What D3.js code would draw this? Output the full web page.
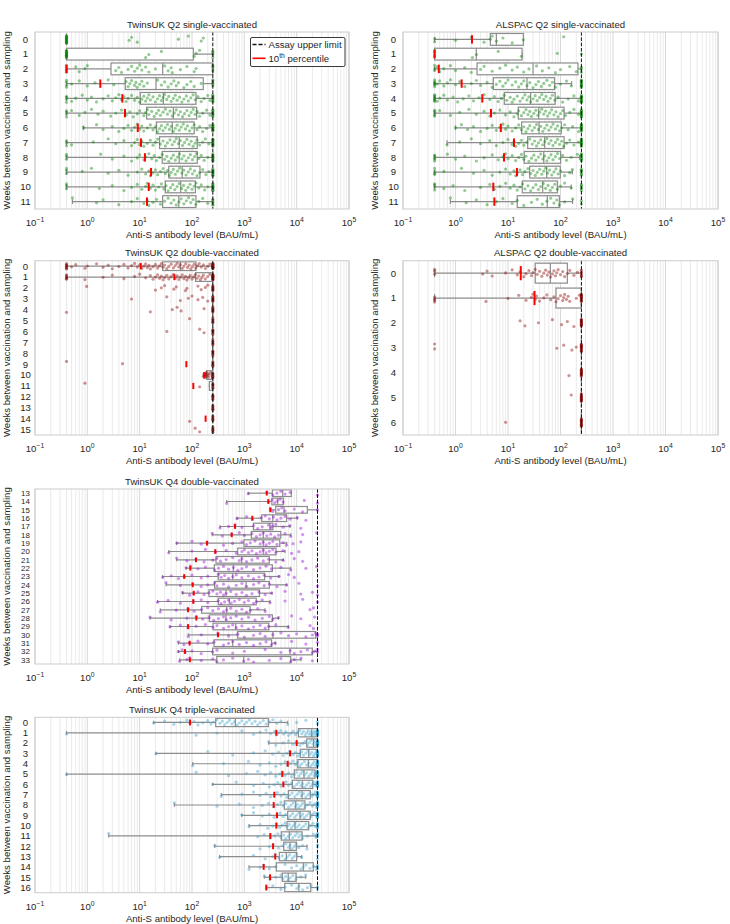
<!DOCTYPE html>
<html><head><meta charset="utf-8">
<script src="https://cdn.jsdelivr.net/npm/d3@7"></script>
<style>
body{margin:0;background:#fff}
svg{display:block}
text{font-family:"Liberation Sans",Arial,Helvetica,sans-serif;fill:#262626}
</style></head>
<body><svg id="chart" width="730" height="924"></svg>
<script>
// ---------- DATA ----------
const panelTitles = ["TwinsUK Q2 single-vaccinated","ALSPAC Q2 single-vaccinated","TwinsUK Q2 double-vaccinated","ALSPAC Q2 double-vaccinated","TwinsUK Q4 double-vaccinated","TwinsUK Q4 triple-vaccinated"];
const xTickExps = [-1,0,1,2,3,4,5];
const assayLower = [0.4,0.4,0.4,0.4,0.4,0.4];
const assayUpper = [250,250,250,250,25000,25000];
const xLabel = "Anti-S antibody level (BAU/mL)";
const yLabel = "Weeks between vaccination and sampling";

// box stats per row: [whiskerLow, Q1, median, Q3, whiskerHigh, 10th percentile]
const p1Weeks = [0,1,2,3,4,5,6,7,8,9,10,11];
const p1Box = [
 [0.4,0.4,0.4,0.4,0.4,null],[0.4,0.4,0.4,106,250,null],[0.4,2.83,27.5,250,250,0.4],
 [0.4,5.3,20.5,164,250,1.77],[0.4,10.3,28.3,119,250,4.66],[0.4,13.6,44,123,250,5.25],
 [0.84,21,42,110,250,9.2],[0.4,24,57,126,250,10.6],[0.4,27,57,126,250,12.6],
 [0.4,36,65,142,250,16.5],[0.4,31,61,116,250,14.9],[0.52,27.5,56,119,250,13.8]];
const p1Low = [14,14,5,4,4,4,0,3,3,3,3,0];
const p1High = [0,4,4,5,8,8,10,10,10,10,10,5];
const p1Pts = [
 [6.3,7,9,55,85,150,165],
 [13,15,26,110,120,140],
 [0.6,0.7,0.9,1.0,3.5,4,4.5,6,7,8,9,10,11,13,15,20,30,35,40,42,60,80,110,120],
 [0.5,0.7,1,1.4,2.5,3.2,5.5,6,6.5,7,8,8.5,9,10,11,12,14,22,26,30,35,40,45,50,55,70,80,95,110,150],
 [0.5,0.6,0.8,1.0,1.2,1.5,2,2.5,3,3.5,4,4.5,5,5.5,6,7,8,9,10,11,12,13,14,15,16,18,20,22,24,26,28,30,33,36,40,44,48,52,58,64,70,78,85,95,105,115,130,150,170,200,220],
 [0.5,0.7,0.9,1.2,1.6,2,2.8,3.5,4.5,5.5,6.5,7.5,9,10,12,13,14,15,17,19,21,23,25,28,31,34,38,42,46,50,55,60,66,72,80,88,96,105,115,125,140,160,190,220],
 [0.85,1.5,2,3,4,5,6,7,8,9,10,11,12,14,16,18,20,22,24,26,28,31,34,37,40,44,48,52,57,62,68,75,82,90,100,110,125,140,160,190,220],
 [0.5,1.3,2.5,3.5,5,7,8,9,10,11,12,14,16,18,20,22,25,28,31,34,38,42,46,50,55,60,66,72,80,88,96,105,115,125,140,160,180,210],
 [1.8,3,5,7,9,10,12,13,15,17,19,21,24,27,30,33,36,40,44,48,53,58,64,70,77,85,93,102,112,122,135,150,170,200],
 [0.8,1.2,2.5,4,6,9,11,13,15,16,18,20,22,25,28,31,34,37,40,44,48,53,58,64,70,77,85,93,102,112,125,140,160,185,210],
 [1.7,3,5,7,9,11,13,14,16,18,20,23,26,29,32,35,39,43,47,52,57,63,69,76,84,92,100,110,120,135,150,175,200],
 [0.52,1.5,2,4,7,9,12,14,15,18,21,25,30,35,40,45,50,56,62,70,78,86,95,105,118,135,160,200]];

const p2Weeks = [0,1,2,3,4,5,6,7,8,9,10,11];
const p2Box = [
 [0.4,4.6,6.0,19.6,19.6,2.06],[0.4,0.4,2.49,18.5,18.5,0.4],[0.4,2.57,30,215,250,0.48],
 [0.4,5.25,23,77,163,1.31],[0.4,8.5,27,79,250,3.24],[0.4,15.7,38.5,117,250,4.75],
 [1.0,18.2,39,103.5,250,7.3],[0.69,23.7,50,117,250,13],[0.4,20.4,48,100.7,230,8.4],
 [0.4,25.9,54.6,99,168,14.8],[0.4,18.7,45.8,87,160,5.25],[0.8,15,56,95,170,5.5]];
const p2Low = [2,4,3,6,8,5,0,0,5,4,4,0];
const p2High = [0,1,3,10,10,10,10,10,8,6,5,2];
const p2Pts = [
 [1,2,3.5,4.6,5,6,8,12,19.6,115],
 [2.1,2.5,6.5,18,87],
 [0.45,0.5,0.6,0.8,1,1.5,2,3,3.5,5,7,9,12,15,20,25,35,45,60,80,100,150,200],
 [0.45,0.5,0.6,0.7,0.8,1,1.2,1.5,2,2.5,3,4,5,6,7,8,9,10,12,14,16,18,20,23,26,30,34,38,43,48,55,62,70,80,100,130,160],
 [0.45,0.5,0.6,0.7,0.9,1.1,1.4,1.8,2.2,2.8,3.5,4.5,5.5,6.5,7.5,8.5,9.5,11,12,13,15,17,19,21,23,25,27,30,33,36,40,44,48,53,58,64,70,78,90,110,140,180,220],
 [0.5,0.8,1.2,1.8,2.5,3.5,4.5,5.5,7,9,11,13,15,16,18,20,22,24,26,28,31,34,37,40,44,48,52,57,62,68,75,82,90,100,110,125,150,180,220],
 [1,1.3,1.7,2.2,3,4,5,6,7,8,9,10,12,14,16,18,20,22,24,26,29,32,35,38,42,46,50,55,60,66,72,80,88,96,105,120,140,170,220],
 [0.69,1.2,2,3,4.5,6,8,10,12,13,14,16,18,20,23,26,29,32,35,38,42,46,50,55,60,66,72,80,88,96,105,115,130,150,180,220],
 [0.7,1,1.5,2.5,3.5,5,6.5,8,9,10,12,14,16,18,20,22,25,28,31,34,38,42,46,50,55,60,66,72,80,88,96,110,130,160,210],
 [0.6,1.3,2.2,3.5,5,7,9,11,13,14,15,17,19,21,24,27,30,33,36,40,44,48,52,57,62,68,75,82,90,100,120,150,168],
 [0.6,0.9,1.5,3,4.5,5.5,7,9,11,13,15,17,19,21,24,27,30,34,38,42,47,52,58,64,70,78,87,100,120,160],
 [0.8,1.6,2.5,4,6,8,12,15,20,28,36,45,55,65,75,85,95,120,170]];

const p3Weeks = [0,1,2,3,4,5,6,7,8,9,10,11,12,13,14,15];
const p3Box = [
 [0.4,27.5,60,119,250,10.5],[0.4,117,250,250,250,46],[250,250,250,250,250,null],
 [250,250,250,250,250,null],[250,250,250,250,250,null],[250,250,250,250,250,null],
 [250,250,250,250,250,null],[250,250,250,250,250,null],[250,250,250,250,250,null],
 [250,250,250,250,250,78],[165,190,235,250,250,172],[215,215,250,250,250,106],
 [250,250,250,250,250,null],[250,250,250,250,250,null],[250,250,250,250,250,182],
 [250,250,250,250,250,null]];
const p3Low = [8,6,0,0,1,0,0,0,0,1,0,0,0,0,0,0];
const p3High = [14,14,8,8,8,6,6,6,6,6,6,6,6,6,6,6];
const p3Pts = [
 [0.5,0.6,0.9,1.0,1.5,2,2.5,3,4,5,6,7,8,9,10,11,12,13,14,15,16,18,20,22,24,26,28,30,33,36,40,44,48,52,56,60,65,70,76,82,88,95,102,110,118,127,137,150,165,180,200,220],
 [0.9,2,3,5,8,10,13,16,18,20,22,24,26,28,30,33,36,40,44,48,52,56,60,65,70,75,80,86,92,100,108,116,125,135,145,155,165,180,200,220],
 [0.97,20,26,30,45,50,75,80,130,150,180,200],
 [7,33,60,85,100,130,160,200],
 [16,42,52,62,170],
 [90],
 [33,140,170],
 [],[],
 [4.7],
 [165,170,172,175,178,180,185,190,195,200,205,210,220],
 [0.9,140],
 [],[],
 [90],
 [115,140]];

const p4Weeks = [0,1,2,3,4,5,6];
const p4Box = [
 [0.4,33,64,135,250,17.5],[0.4,82,250,250,250,32],[250,250,250,250,250,null],
 [250,250,250,250,250,null],[250,250,250,250,250,null],[250,250,250,250,250,null],
 [250,250,250,250,250,null]];
const p4Low = [3,4,0,2,0,0,0];
const p4High = [6,12,12,12,12,12,12];
const p4Pts = [
 [3.3,4,5,9,12,15,17,20,22,25,28,30,33,36,40,44,48,52,56,60,65,70,75,80,85,90,100,110,120,135,150,180,210],
 [3.8,10,16,22,28,30,33,35,40,48,55,65,75,82,90,100,110,115,120,130,140,150,200,230],
 [17,21,38,70,105,135,180],
 [85,115,165,200],
 [145],[160],[9]];

const p5Weeks = [13,14,15,16,17,18,19,20,21,22,23,24,25,26,27,28,29,30,31,32,33];
const p5Box = [
 [1190,3430,5410,7900,7900,2680],[460,3360,4350,5560,5560,2870],[3140,3980,5730,16000,25000,3140],
 [725,2150,3500,6450,10300,1420],[343,1490,3100,3520,7460,663],[244,1360,2300,4960,7700,574],
 [51,986,2300,4750,6450,194],[36,747,2300,4030,6000,279],[51,288,890,3000,5560,119],
 [77,267,616,3430,7700,93],[27.5,318,600,2450,4600,71],[32,270,1080,3000,6450,103],
 [66,211,447,1940,3380,108],[22,318,516,1690,3100,106],[24.8,153,460,1290,2480,84],
 [15.8,214,447,3430,4480,121],[38,252,684,2930,6930,84],[85,747,3520,23100,25000,314],
 [55,263,600,3320,3900,90],[55,248,7460,19900,25000,73.5],[58,297,973,7700,12100,91]];
const p5Low = [0,0,0,0,0,0,0,0,0,0,0,0,0,0,0,0,0,0,0,0,0];
const p5High = [1,0,1,0,0,0,0,0,0,0,0,1,1,1,0,0,0,2,1,2,0];
const p5Pts = [
 [1190,2700,3500,4200,5000,6000,7500],
 [460,2870,3400,3800,4200,4800,5500,14000,25000],
 [3140,3500,4500,5200,6000,9000,13000],
 [725,1100,1420,2100,2500,3000,3600,4200,5000,6000,7500,10300,15000],
 [343,500,663,900,1500,1800,2200,2900,3200,3400,4000,5500,7400,12000],
 [244,380,574,800,1000,1400,1700,2000,2300,2700,3200,3800,4500,6000,7700,13000,24000],
 [51,100,150,194,400,600,900,1100,1300,1600,2000,2300,2600,3000,3500,4200,5500,6400,8500,12000],
 [36,100,180,279,450,700,900,1000,1200,1400,1700,2000,2300,2600,3000,3500,4000,5500,8000,11000],
 [51,80,119,170,250,300,350,450,600,800,900,1100,1400,1800,2300,2900,4000,5500,9000,13000],
 [77,93,130,180,270,320,400,500,620,750,900,1100,1500,2000,2600,3300,5000,7700,15000,24000],
 [27.5,40,55,71,100,150,200,320,360,420,500,600,700,900,1200,1500,1900,2400,3200,4600,7000,9000],
 [32,60,103,150,200,270,300,400,500,700,900,1100,1500,1900,2400,3000,4200,6400,11000],
 [66,90,108,130,170,211,250,300,350,400,450,550,700,900,1100,1400,1900,2500,3300,6000,12000,20000],
 [22,35,60,106,150,200,318,360,420,500,560,650,800,1000,1200,1500,1700,2200,3100,6000,13000],
 [24.8,50,84,110,153,200,250,320,400,460,550,700,900,1100,1300,1800,2500,18000,21000],
 [15.8,40,80,121,160,214,260,320,400,450,550,700,900,1200,1600,2200,3000,3500,4500,8000,12000,22000],
 [38,60,84,120,180,252,300,400,500,600,700,900,1200,1500,2000,2500,2900,4000,6900,18000,21000],
 [85,150,314,500,747,1000,1500,2000,2500,3500,5000,7000,10000,15000,20000,23000],
 [55,70,90,130,200,263,400,500,600,800,1100,1500,2000,2600,3300,3900,8000,15000],
 [55,65,73.5,100,150,248,300,600,1000,2500,5000,7500,9000,12000,16000,19900,22000],
 [58,80,91,150,250,297,400,600,973,1200,1500,3000,5000,7700,9000,12100,20000]];

const p6Weeks = [0,1,2,3,4,5,6,7,8,9,10,11,12,13,14,15,16];
const p6Box = [
 [18.5,284,673,2870,6740,91.6],[0.4,10800,19400,25000,25000,4090],[2920,15600,21000,25000,25000,10000],
 [20.5,11700,17000,24800,25000,7460],[103,10500,16700,25000,25000,6740],[0.4,9020,13800,22400,25000,5320],
 [249,8260,12800,20300,25000,5570],[363,6930,12700,18200,25000,3740],[46,5810,9590,14400,25000,3640],
 [891,6740,11600,18200,25000,4210],[1230,6560,9300,17000,25000,4090],[2.56,5090,7240,12700,23400,3140],
 [272,5660,7460,9840,15800,3540],[338,4660,6350,10000,12500,3900],[1230,4090,13400,20800,25000,2340],
 [2410,5320,6900,9720,14900,3100],[2630,5910,11000,18600,25000,2630]];
const p6Low = [0,1,0,0,0,1,0,0,0,0,0,0,0,0,0,0,0];
const p6High = [2,14,14,14,14,12,12,12,10,10,8,4,2,2,3,0,2];
const p6Pts = [
 [18.5,30,45,60,80,91.6,110,130,160,200,230,260,300,340,380,420,470,520,580,650,720,800,900,1000,1100,1250,1400,1600,1800,2000,2300,2600,3000,3500,4200,5000,6740,10000,15000],
 [120,300,900,1500,2000,2600,3200,3800,4090,4500,5000,5600,6200,7000,7800,8600,9500,10500,11500,12500,13500,14500,15500,16500,17500,18500,19500,20500,21500,22500,23500,24500],
 [2920,4000,5500,7000,8500,10000,11500,13000,14500,16000,17500,19000,20500,22000,23500,24500],
 [20.5,200,600,1500,2500,3500,4500,5500,6500,7460,8500,9500,10500,11500,12500,13500,15000,16500,18000,19500,21000,22500,24000],
 [103,400,1200,2000,3000,4000,5000,6000,6740,7500,8500,9500,10500,11500,12500,14000,15500,17000,18500,20000,21500,23000,24500],
 [120,500,1100,1800,2500,3200,4000,4700,5320,6000,7000,8000,9000,10000,11000,12000,13000,14000,15500,17000,18500,20000,21500,23000,24500],
 [249,700,1500,2300,3000,3700,4400,5000,5570,6300,7000,8000,9000,10000,11000,12000,13000,14000,15500,17000,18500,20000,21500,23000,24500],
 [363,900,1500,2000,2600,3200,3740,4300,5000,5700,6500,7300,8200,9200,10200,11200,12200,13500,15000,16500,18000,19500,21000,23000,24500],
 [46,300,800,1500,2200,2900,3640,4300,5000,5600,6200,7000,7800,8600,9400,10200,11000,12000,13000,14400,16000,18000,20000,22000,24000],
 [891,1500,2200,3000,3700,4210,4800,5500,6200,6900,7600,8400,9200,10000,11000,12000,13000,14000,15500,17000,18500,20000,22000,24000],
 [1230,2000,2800,3500,4090,4700,5300,6000,6600,7200,7900,8600,9300,10200,11200,12200,13500,15000,16500,18500,20500,23000],
 [2.56,1800,2400,3140,3800,4400,5000,5600,6200,6900,7600,8400,9300,10200,11000,12000,13000,16000,21000,23400],
 [272,2000,3000,3540,4500,5500,6200,7000,7500,8200,9000,9800,11000,13000,15800],
 [338,1500,2500,3500,3900,4600,5300,6000,6600,7300,8200,9000,10000,12500],
 [1230,2000,2340,3000,4000,6000,8000,10000,12000,13400,15000,18000,20800,24000],
 [2410,3100,4000,5000,5500,6200,6900,7500,8500,9700,12000,14900],
 [2630,3500,5000,6000,8000,10000,11000,13000,16000,18600]];

// ---------- LAYOUT / STYLE ----------
const pointColors = ["#008000","#008000","#8b0000","#8b0000","#9400d3","#3aa0c8"];
const rects = [[35,349,32,209],[403,718,32,209],[35,349,260.7,435],[403,718,260.7,435],[35,349,489,664],[35,349,717.3,892.7]];
const panels = [
 {weeks:p1Weeks,box:p1Box,pts:p1Pts,low:p1Low,high:p1High},
 {weeks:p2Weeks,box:p2Box,pts:p2Pts,low:p2Low,high:p2High},
 {weeks:p3Weeks,box:p3Box,pts:p3Pts,low:p3Low,high:p3High},
 {weeks:p4Weeks,box:p4Box,pts:p4Pts,low:p4Low,high:p4High},
 {weeks:p5Weeks,box:p5Box,pts:p5Pts,low:p5Low,high:p5High},
 {weeks:p6Weeks,box:p6Box,pts:p6Pts,low:p6Low,high:p6High}];

const svg = d3.select("#chart");
const FS = 9.6;
const boxColor = "#8c8c8c";

panels.forEach((p, pi) => {
  const [L,R,T,B] = rects[pi];
  const g = svg.append("g");
  const x = d3.scaleLog().domain([0.1,1e5]).range([L,R]);
  const y = d3.scaleBand().domain(p.weeks).range([T,B]);
  const bw = y.bandwidth();
  const bh = 0.8*bw;

  // grid
  const gridVals = [];
  for (let e=-1; e<5; e++) for (let m=1; m<10; m++) gridVals.push(m*Math.pow(10,e));
  gridVals.push(1e5);
  g.selectAll("line.grid").data(gridVals).join("line")
    .attr("x1",d=>x(d)).attr("x2",d=>x(d)).attr("y1",T).attr("y2",B)
    .attr("stroke",(d)=>{const l=Math.log10(d);return Math.abs(l-Math.round(l))<1e-9?"#d4d4d4":"#e8e8e8";})
    .attr("stroke-width",0.9);

  // whiskers, caps and boxes
  p.box.forEach((b,i)=>{
    const [lo,q1,med,q3,hi] = b;
    const cy = y(p.weeks[i]) + bw/2;
    const capH = Math.max(3, 0.4*bh);
    const wg = g.append("g").attr("stroke",boxColor).attr("stroke-width",1.2).attr("fill","none");
    wg.append("line").attr("x1",x(lo)).attr("x2",x(q1)).attr("y1",cy).attr("y2",cy);
    wg.append("line").attr("x1",x(q3)).attr("x2",x(hi)).attr("y1",cy).attr("y2",cy);
    wg.append("line").attr("x1",x(lo)).attr("x2",x(lo)).attr("y1",cy-capH/2).attr("y2",cy+capH/2);
    wg.append("line").attr("x1",x(hi)).attr("x2",x(hi)).attr("y1",cy-capH/2).attr("y2",cy+capH/2);
    wg.append("rect").attr("x",x(q1)).attr("y",cy-bh/2).attr("width",Math.max(0,x(q3)-x(q1))).attr("height",bh).attr("fill","#fff");
    wg.append("line").attr("x1",x(med)).attr("x2",x(med)).attr("y1",cy-bh/2).attr("y2",cy+bh/2);
  });

  // points
  const J = Math.min(4, 0.27*bw);
  const all = [];
  p.weeks.forEach((w,i)=>{
    const vals = p.pts[i].concat(new Array(p.low[i]).fill(assayLower[pi]), new Array(p.high[i]).fill(assayUpper[pi]));
    vals.forEach((v,j)=>{
      const off = ((((j+1)*0.6180339887 + i*0.31) % 1) - 0.5)*2*J;
      all.push({v, cy: y(w)+bw/2+off});
    });
  });
  g.selectAll("circle.pt").data(all).join("circle")
    .attr("cx",d=>x(d.v)).attr("cy",d=>d.cy).attr("r",1.6)
    .attr("fill",pointColors[pi]).attr("fill-opacity",0.42);

  // 10th percentile markers
  p.box.forEach((b,i)=>{
    if (b[5]==null) return;
    const cy = y(p.weeks[i]) + bw/2;
    const h = 0.57*bw;
    g.append("line").attr("x1",x(b[5])).attr("x2",x(b[5])).attr("y1",cy-h/2).attr("y2",cy+h/2)
      .attr("stroke","#ff0000").attr("stroke-width",2);
  });

  // assay upper limit
  g.append("line").attr("x1",x(assayUpper[pi])).attr("x2",x(assayUpper[pi])).attr("y1",T).attr("y2",B)
    .attr("stroke","#111").attr("stroke-width",1).attr("stroke-dasharray","3.7,1.6");

  // frame
  g.append("rect").attr("x",L).attr("y",T).attr("width",R-L).attr("height",B-T)
    .attr("fill","none").attr("stroke","#cccccc").attr("stroke-width",1);

  // title
  g.append("text").attr("x",(L+R)/2).attr("y",T-4.5).attr("text-anchor","middle")
    .attr("font-size",FS).text(panelTitles[pi]);

  // x tick labels
  xTickExps.forEach(e=>{
    const t = g.append("text").attr("x",x(Math.pow(10,e))).attr("y",B+17).attr("text-anchor","middle").attr("font-size",FS);
    t.append("tspan").text("10");
    t.append("tspan").attr("dy",-4).attr("font-size",6.8).text(e<0?"\u22121":String(e));
  });
  g.append("text").attr("x",(L+R)/2).attr("y",B+29).attr("text-anchor","middle").attr("font-size",FS).text(xLabel);

  // y tick labels (slightly smaller where rows are very tight)
  const yfs = Math.min(FS, bw*0.95);
  p.weeks.forEach(w=>{
    g.append("text").attr("x",L-9.5).attr("y",y(w)+bw/2+yfs*0.35).attr("text-anchor","middle").attr("font-size",yfs).text(w);
  });
  g.append("text").attr("transform",`translate(${L-25},${(T+B)/2}) rotate(-90)`)
    .attr("text-anchor","middle").attr("font-size",FS).text(yLabel);

  // legend
  if (pi===0){
    const lg = g.append("g");
    lg.append("rect").attr("x",250.5).attr("y",37.5).attr("width",94.5).attr("height",29).attr("rx",1.5)
      .attr("fill","#fff").attr("stroke","#222").attr("stroke-width",0.9);
    lg.append("line").attr("x1",252.5).attr("x2",265.5).attr("y1",44.5).attr("y2",44.5)
      .attr("stroke","#111").attr("stroke-width",1.4).attr("stroke-dasharray","4,2");
    lg.append("text").attr("x",268.5).attr("y",47.8).attr("font-size",FS).text("Assay upper limit");
    lg.append("line").attr("x1",252.5).attr("x2",265.5).attr("y1",58.3).attr("y2",58.3)
      .attr("stroke","#ff0000").attr("stroke-width",1.6);
    const t2 = lg.append("text").attr("x",268.5).attr("y",61.6).attr("font-size",FS);
    t2.append("tspan").text("10");
    t2.append("tspan").attr("dy",-3.5).attr("font-size",6.8).text("th");
    t2.append("tspan").attr("dy",3.5).text(" percentile");
  }
});
</script></body></html>
